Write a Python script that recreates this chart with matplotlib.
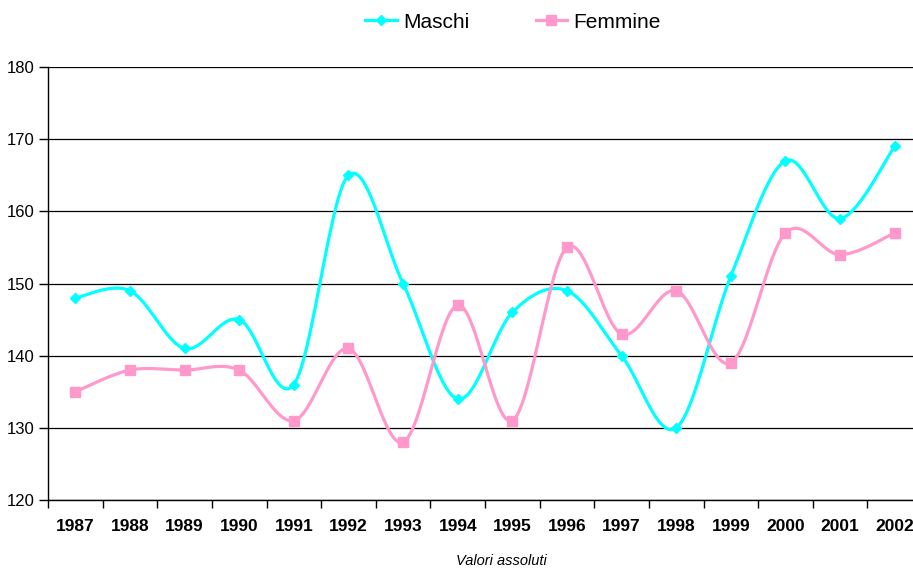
import numpy as np
import matplotlib
matplotlib.use("Agg")
import matplotlib.pyplot as plt
from matplotlib.ticker import FixedLocator, NullFormatter

years = ["1987", "1988", "1989", "1990", "1991", "1992", "1993", "1994",
         "1995", "1996", "1997", "1998", "1999", "2000", "2001", "2002"]
maschi = [148, 149, 141, 145, 136, 165, 150, 134, 146, 149, 140, 130, 151, 167, 159, 169]
femmine = [135, 138, 138, 138, 131, 141, 128, 147, 131, 155, 143, 149, 139, 157, 154, 157]

plt.rcParams['font.family'] = ['Liberation Sans', 'DejaVu Sans']


def smooth(x, y, n=30):
    """Catmull-Rom style smoothing (like Excel's smoothed line)."""
    x = np.asarray(x, float)
    y = np.asarray(y, float)
    px = np.concatenate([[x[0]], x, [x[-1]]])
    py = np.concatenate([[y[0]], y, [y[-1]]])
    xs, ys = [], []
    t = np.linspace(0, 1, n)
    for i in range(1, len(px) - 2):
        p0x, p1x, p2x, p3x = px[i - 1], px[i], px[i + 1], px[i + 2]
        p0y, p1y, p2y, p3y = py[i - 1], py[i], py[i + 1], py[i + 2]
        c1x = p1x + (p2x - p0x) / 6
        c1y = p1y + (p2y - p0y) / 6
        c2x = p2x - (p3x - p1x) / 6
        c2y = p2y - (p3y - p1y) / 6
        bx = (1 - t) ** 3 * p1x + 3 * (1 - t) ** 2 * t * c1x + 3 * (1 - t) * t ** 2 * c2x + t ** 3 * p2x
        by = (1 - t) ** 3 * p1y + 3 * (1 - t) ** 2 * t * c1y + 3 * (1 - t) * t ** 2 * c2y + t ** 3 * p2y
        xs.append(bx)
        ys.append(by)
    return np.concatenate(xs), np.concatenate(ys)


W, H = 913, 569
fig = plt.figure(figsize=(W / 100, H / 100), dpi=100)
ax = fig.add_axes([48 / W, (H - 500) / H, 874 / W, (500 - 67) / H])

x = np.arange(len(years))
cyan = "#00FFFF"
pink = "#FF99CC"

sx, sy = smooth(x, maschi)
ax.plot(sx, sy, color=cyan, lw=2.3, zorder=3, solid_capstyle='round')
ax.plot(x, maschi, linestyle='none', marker='D', ms=5.5, color=cyan, zorder=4)
sx, sy = smooth(x, femmine)
ax.plot(sx, sy, color=pink, lw=2.3, zorder=3, solid_capstyle='round')
ax.plot(x, femmine, linestyle='none', marker='s', ms=7.5, color=pink, zorder=4)

# legend proxies
h1, = ax.plot([], [], color=cyan, lw=2.3, marker='D', ms=5.5, label="Maschi")
h2, = ax.plot([], [], color=pink, lw=2.3, marker='s', ms=7.5, label="Femmine")
fig.legend(handles=[h1, h2], loc='center', bbox_to_anchor=(513 / W, 1 - 22 / H),
           ncol=2, frameon=False, fontsize=15, handlelength=1.5,
           handletextpad=0.3, columnspacing=3.2)

ax.set_xlim(-0.5, len(years) - 0.5)
ax.set_ylim(120, 180)
ax.set_yticks(np.arange(120, 181, 10))
ax.yaxis.grid(True, color='black', lw=0.9)
ax.set_axisbelow(True)

ax.set_xticks(x)
ax.set_xticklabels(years, fontweight='bold', fontsize=12.5)
ax.tick_params(axis='x', which='major', length=0, pad=14)
ax.xaxis.set_minor_locator(FixedLocator(np.arange(-0.5, len(years), 1.0)))
ax.xaxis.set_minor_formatter(NullFormatter())
ax.tick_params(axis='x', which='minor', length=6, width=1, color='black')
ax.tick_params(axis='y', length=6.5, width=1, labelsize=12, pad=3)

for s in ['top', 'right']:
    ax.spines[s].set_visible(False)
for s in ['left', 'bottom']:
    ax.spines[s].set_color('black')
    ax.spines[s].set_linewidth(1)

fig.text(501 / W, 1 - 561 / H, "Valori assoluti", style='italic', fontsize=10.5,
         ha='center', va='center')

fig.savefig("out.png", dpi=100)
